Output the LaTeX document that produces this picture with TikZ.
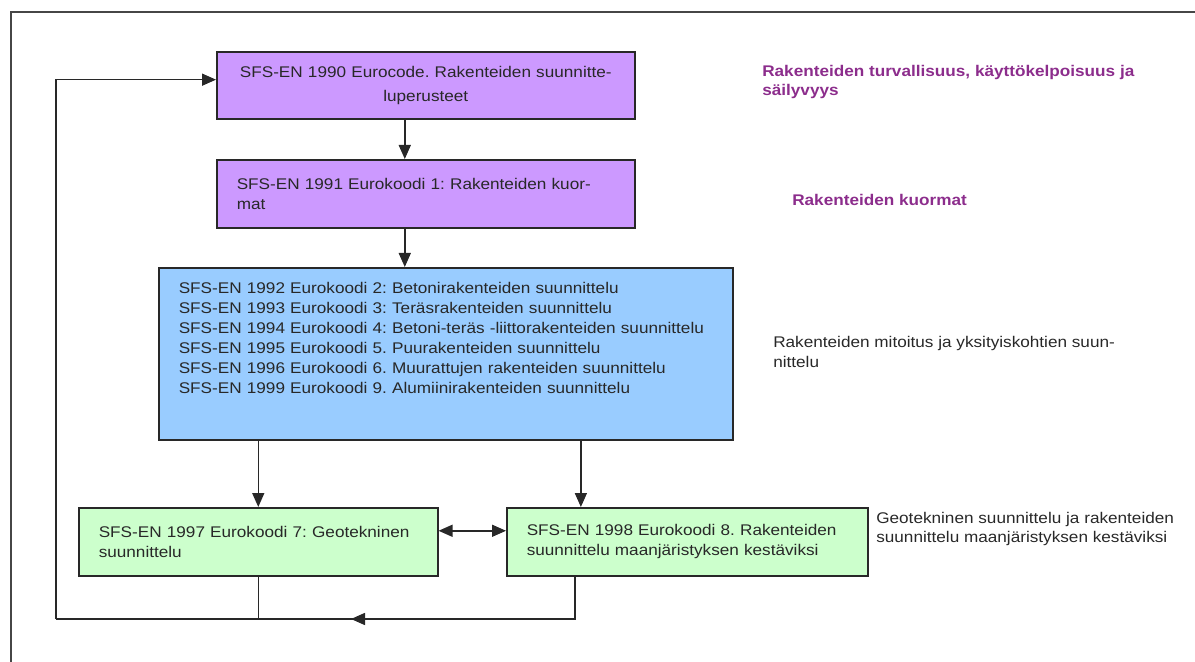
\documentclass[tikz,border=0pt]{standalone}
\usepackage{fontspec}
\setmainfont{Liberation Sans}[FakeStretch=1.11]
\usepackage{tikz}
\usetikzlibrary{arrows.meta}
\definecolor{mauve}{RGB}{204,153,255}
\definecolor{ciel}{RGB}{153,204,255}
\definecolor{menthe}{RGB}{204,255,204}
\definecolor{prune}{RGB}{140,45,140}
\definecolor{encre}{RGB}{40,40,40}
\definecolor{grisf}{RGB}{70,70,70}
\frenchspacing

\begin{document}
\begin{tikzpicture}[x=0.25mm, y=-0.25mm,
  b/.style 2 args={rectangle, draw=encre, fill=#1, line width=1.1pt, text width=#2,
                   anchor=north west, inner xsep=5mm, inner ysep=0pt, minimum height=17mm,
                   align=left, text=encre, font=\fontsize{11}{14.2}\selectfont},
  lien/.style={line width=1.1pt, draw=encre},
  fl/.style={lien, -{Triangle[length=3.5mm, width=3mm]}},
  note/.style={anchor=west, inner sep=0pt, align=left, text=encre, font=\fontsize{11}{14.2}\selectfont},
  noteb/.style={note, text=prune, font=\fontsize{11}{14.2}\selectfont\bfseries}]

\useasboundingbox (0,0) rectangle (1195,662);
\draw[line width=1.1pt, grisf] (11,662) -- (11,12) -- (1195,12);

% colonne des eurocodes
\node[b={mauve}{94.5mm}, align=center, minimum height=16.75mm] (b1) at (216,51)
  {SFS-EN 1990 Eurocode. Rakenteiden suunnitte-\\[1mm] luperusteet};
\node[b={mauve}{94.5mm}] (b2) at (216,159)
  {SFS-EN 1991 Eurokoodi 1: Rakenteiden kuor-\\ mat};
\node[b={ciel}{133.5mm}, minimum height=0pt, text height=6.5mm, text depth=36.5mm] (b3) at (158,267)
  {SFS-EN 1992 Eurokoodi 2: Betonirakenteiden suunnittelu\\
   SFS-EN 1993 Eurokoodi 3: Teräsrakenteiden suunnittelu\\
   SFS-EN 1994 Eurokoodi 4: Betoni-teräs -liittorakenteiden suunnittelu\\
   SFS-EN 1995 Eurokoodi 5. Puurakenteiden suunnittelu\\
   SFS-EN 1996 Eurokoodi 6. Muurattujen rakenteiden suunnittelu\\
   SFS-EN 1999 Eurokoodi 9. Alumiinirakenteiden suunnittelu};
\node[b={menthe}{79.75mm}] (g1) at (78,507)
  {SFS-EN 1997 Eurokoodi 7: Geotekninen\\ suunnittelu};
\node[b={menthe}{80.25mm}] (g2) at (506,507)
  {SFS-EN 1998 Eurokoodi 8. Rakenteiden\\ suunnittelu maanjäristyksen kestäviksi};

% notes
\node[noteb] (n1) at (762,82) {Rakenteiden turvallisuus, käyttökelpoisuus ja\\ säilyvyys};
\node[noteb] (n2) at (792,200) {Rakenteiden kuormat};
\node[note] (n3) at (773,352) {Rakenteiden mitoitus ja yksityiskohtien suun-\\ nittelu};
\node[note] (n4) at (876,529) {Geotekninen suunnittelu ja rakenteiden\\ suunnittelu maanjäristyksen kestäviksi};

% fleches
\draw[fl] ([xshift=-5.25mm]b1.south) -- ([xshift=-5.25mm]b2.north);
\draw[fl] ([xshift=-5.25mm]b2.south) -- ([xshift=-5.25mm]b2.south |- b3.north);
\draw[fl] (g1.north |- b3.south) -- (g1.north);
\draw[fl] ([xshift=-26.6mm]g2.north |- b3.south) -- ([xshift=-26.6mm]g2.north);
\draw[fl, {Triangle[length=3.5mm, width=3mm]}-{Triangle[length=3.5mm, width=3mm]}]
  ([yshift=2.75mm]g1.east) -- ([yshift=2.75mm]g2.west);

% retour
\coordinate (bas) at (56,619);
\coordinate (mil) at (351,619);
\draw[lien] ([xshift=-28.1mm]g2.south) |- (bas);
\draw[lien] (g1.south) -- (g1.south |- bas);
\draw[fl] ([xshift=-28.1mm]g2.south |- bas) -- (mil);
\draw[fl] (bas) |- ([yshift=1.4mm]b1.west);

\end{tikzpicture}
\end{document}
